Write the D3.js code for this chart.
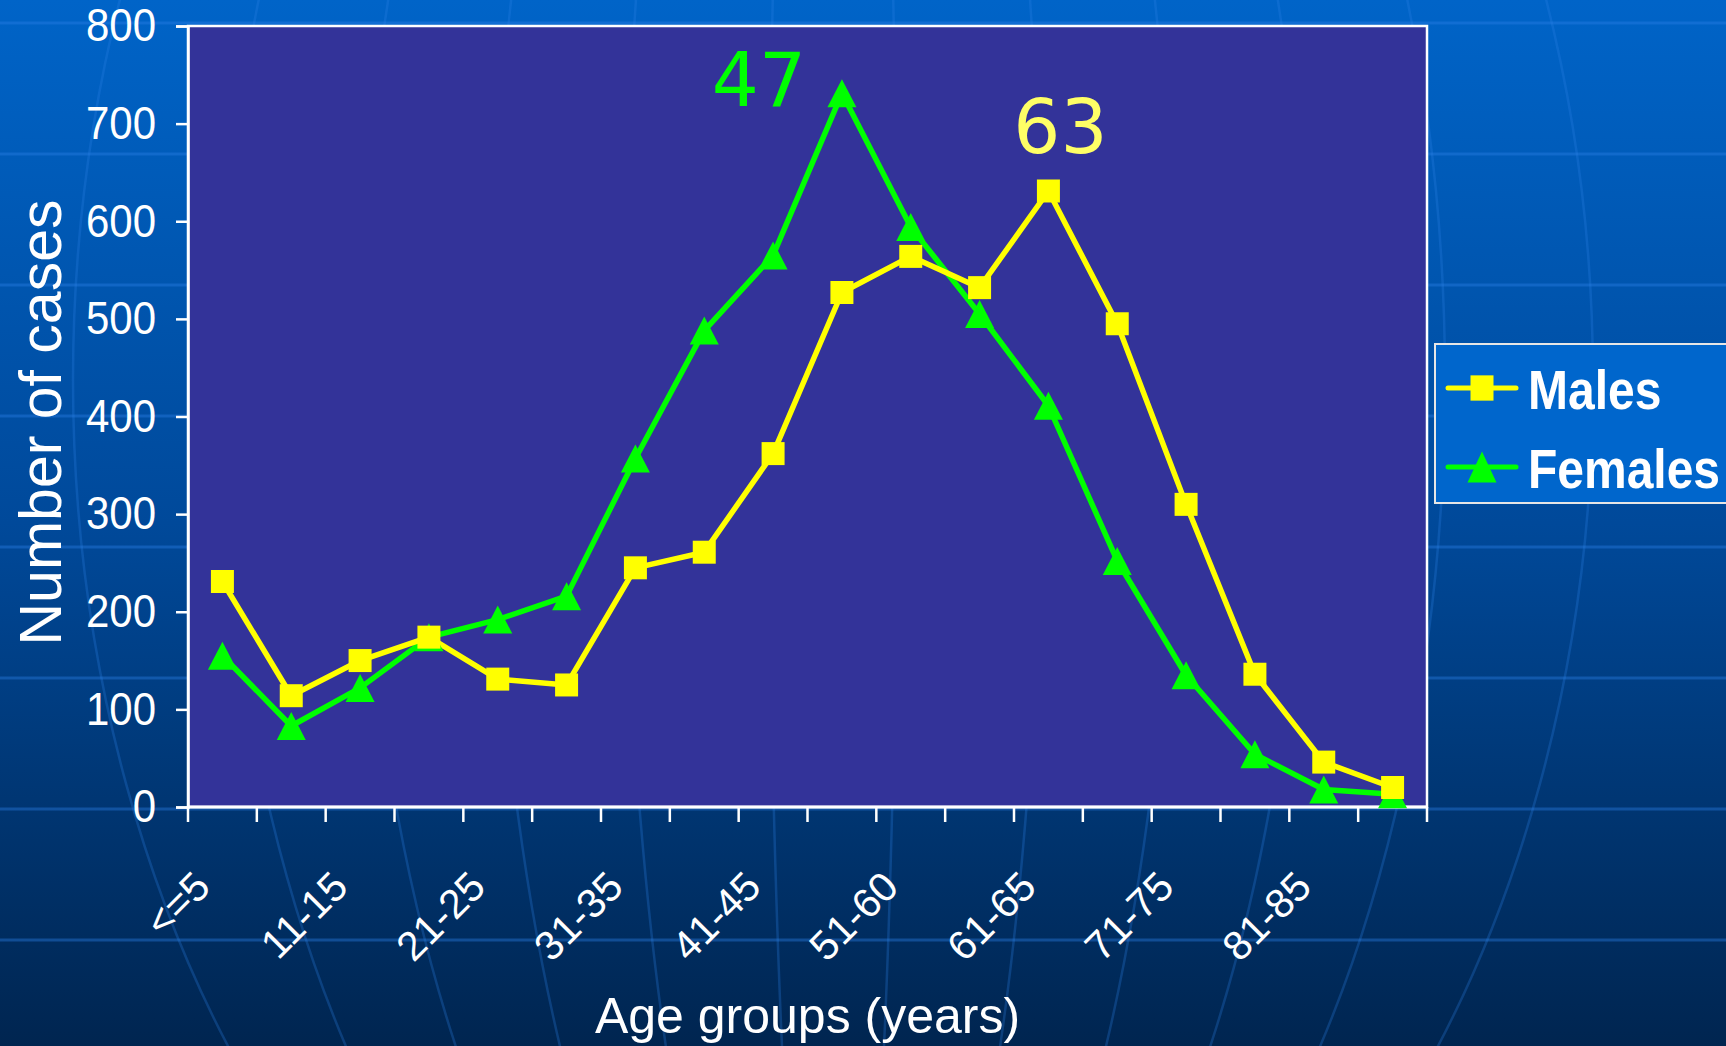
<!DOCTYPE html>
<html>
<head>
<meta charset="utf-8">
<script src="https://cdn.jsdelivr.net/npm/d3@7"></script>
<style>
    body { margin: 0; background: #00254f; }
    text { font-family: "Liberation Sans", Arial, sans-serif; }
</style>
</head>
<body>
<div id="chart"></div>
<script>
// age groups, every second one is labelled on the axis
var categories = ["<=5", "6-10", "11-15", "16-20", "21-25", "26-30", "31-35", "36-40", "41-45",
    "46-50", "51-60", "56-60", "61-65", "66-70", "71-75", "76-80", "81-85", ">85"];
var males = [231, 114, 150, 174, 131, 125, 245, 261, 362, 527, 564, 532, 631, 495, 310, 136, 46, 20];
var females = [155, 83, 122, 174, 192, 216, 357, 488, 565, 731, 594, 505, 411, 252, 135, 54, 18, 13];
var yTicks = [0, 100, 200, 300, 400, 500, 600, 700, 800];
var seriesNames = ["Males", "Females"];
var peakLabels = ["63", "47"];   // males, females

var W = 1726, H = 1046;
var margin = { top: 26, left: 188, right: 299, bottom: 239 };

var svg = d3.select("#chart").append("svg")
    .attr("width", W)
    .attr("height", H);

// slide background
var defs = svg.append("defs");
var grad = defs.append("linearGradient")
    .attr("id", "bg").attr("x1", 0).attr("y1", 0).attr("x2", 0).attr("y2", 1);
grad.append("stop").attr("offset", "0%").attr("stop-color", "#0064c8");
grad.append("stop").attr("offset", "50%").attr("stop-color", "#00499a");
grad.append("stop").attr("offset", "100%").attr("stop-color", "#002550");

svg.append("rect").attr("width", W).attr("height", H).attr("fill", "url(#bg)");

var deco = svg.append("g")
    .attr("fill", "none")
    .attr("stroke", "#2a80e6")
    .attr("stroke-opacity", 0.4)
    .attr("stroke-width", 3);

d3.range(8).forEach(function (k) {
    deco.append("line")
        .attr("x1", 0).attr("x2", W)
        .attr("y1", 23 + 131 * k).attr("y2", 23 + 131 * k);
});
[64, 210, 343, 474, 612, 760].forEach(function (rx) {
    deco.append("ellipse")
        .attr("cx", 833).attr("cy", 380)
        .attr("rx", rx).attr("ry", 1100)
        .attr("stroke-opacity", 0.28)
        .attr("stroke-width", 2.5);
});

// scales
var x = d3.scaleBand()
    .domain(categories)
    .range([margin.left, W - margin.right]);
var y = d3.scaleLinear()
    .domain([0, 800])
    .range([H - margin.bottom, margin.top]);
var bw = x.bandwidth();
var cx = function (i) { return x(categories[i]) + bw / 2; };

// plot area
svg.append("rect")
    .attr("x", x.range()[0])
    .attr("y", y(800))
    .attr("width", x.range()[1] - x.range()[0])
    .attr("height", y(0) - y(800))
    .attr("fill", "#333399")
    .attr("stroke", "#ffffff")
    .attr("stroke-width", 2.5);

// y axis
var yAxis = svg.append("g")
    .attr("transform", "translate(" + margin.left + ",0)")
    .call(d3.axisLeft(y).tickValues(yTicks).tickSize(12).tickPadding(20));
yAxis.select(".domain").attr("stroke", "#fff").attr("stroke-width", 2.5);
yAxis.selectAll(".tick line").attr("stroke", "#fff").attr("stroke-width", 2.5);
yAxis.selectAll(".tick text")
    .attr("fill", "#fff")
    .attr("font-size", 42)
    .style("font-family", "'Liberation Sans', Arial, sans-serif")
    .attr("transform", "scale(1,1.1)");

// x axis
var xAxis = svg.append("g")
    .attr("transform", "translate(0," + y(0) + ")");
xAxis.append("line")
    .attr("x1", x.range()[0]).attr("x2", x.range()[1])
    .attr("stroke", "#fff").attr("stroke-width", 3);
var bounds = categories.map(function (c) { return x(c); }).concat([x.range()[1]]);
xAxis.selectAll(".xtick").data(bounds).enter().append("line")
    .attr("x1", function (d) { return d; })
    .attr("x2", function (d) { return d; })
    .attr("y1", 0).attr("y2", 15)
    .attr("stroke", "#fff").attr("stroke-width", 2.5);
xAxis.selectAll(".xlabel")
    .data(categories.filter(function (c, i) { return i % 2 === 0; }))
    .enter().append("text")
    .attr("transform", function (d) {
        return "translate(" + (x(d) + bw / 2 - 10) + ",82) rotate(-45)";
    })
    .attr("text-anchor", "end")
    .attr("fill", "#fff")
    .attr("font-size", 41)
    .text(function (d) { return d; });

// axis titles
svg.append("text")
    .attr("x", (x.range()[0] + x.range()[1]) / 2)
    .attr("y", 1033)
    .attr("text-anchor", "middle")
    .attr("fill", "#fff")
    .attr("font-size", 50)
    .text("Age groups (years)");

svg.append("text")
    .attr("transform", "translate(61," + ((y(0) + y(800)) / 2 + 6) + ") rotate(-90)")
    .attr("text-anchor", "middle")
    .attr("fill", "#fff")
    .attr("font-size", 59)
    .text("Number of cases");

// series
var series = [
    { name: seriesNames[0], values: males, color: "#ffff00", shape: "square" },
    { name: seriesNames[1], values: females, color: "#00ff00", shape: "triangle" }
];
var squarePath = "M-11.5,-11.5H11.5V11.5H-11.5Z";
var trianglePath = "M0,-14L14.5,14L-14.5,14Z";

var line = d3.line()
    .x(function (d, i) { return cx(i); })
    .y(function (d) { return y(d); });

// draw females first so males sit where they overlap like the reference
series.slice().reverse().forEach(function (s) {
    svg.append("path")
        .datum(s.values)
        .attr("d", line)
        .attr("fill", "none")
        .attr("stroke", s.color)
        .attr("stroke-width", 5.5)
        .attr("stroke-linejoin", "round");
});
series.slice().reverse().forEach(function (s) {
    svg.append("g").selectAll("path")
        .data(s.values)
        .enter().append("path")
        .attr("transform", function (d, i) { return "translate(" + cx(i) + "," + y(d) + ")"; })
        .attr("d", s.shape === "square" ? squarePath : trianglePath)
        .attr("fill", s.color);
});

// peak annotations
var maleMax = d3.maxIndex(males), femaleMax = d3.maxIndex(females);
svg.append("text")
    .attr("x", cx(maleMax) + 12)
    .attr("y", y(males[maleMax]) - 38)
    .attr("text-anchor", "middle")
    .style("font-family", "'DejaVu Sans', Verdana, sans-serif")
    .attr("font-size", 74)
    .attr("fill", "#ffff66")
    .text(peakLabels[0]);
svg.append("text")
    .attr("x", cx(femaleMax) - 83)
    .attr("y", y(females[femaleMax]) + 13)
    .attr("text-anchor", "middle")
    .style("font-family", "'DejaVu Sans', Verdana, sans-serif")
    .attr("font-size", 74)
    .attr("fill", "#00ff00")
    .text(peakLabels[1]);

// legend
var legend = svg.append("g").attr("transform", "translate(1435,344)");
legend.append("rect")
    .attr("width", 330).attr("height", 159)
    .attr("fill", "#0066cc")
    .attr("stroke", "#e6e6e6")
    .attr("stroke-width", 2);
series.forEach(function (s, i) {
    var row = legend.append("g").attr("transform", "translate(0," + (44 + i * 79) + ")");
    row.append("line")
        .attr("x1", 13).attr("x2", 81)
        .attr("stroke", s.color)
        .attr("stroke-width", 5)
        .attr("stroke-linecap", "round");
    row.append("path")
        .attr("transform", "translate(47,0) scale(1,1.1)")
        .attr("d", s.shape === "square" ? squarePath : trianglePath)
        .attr("fill", s.color);
    row.append("text")
        .attr("transform", "translate(93,21) scale(1,1.17)")
        .attr("fill", "#fff")
        .attr("font-size", 48)
        .attr("font-weight", "bold")
        .text(s.name);
});
</script>
</body>
</html>
